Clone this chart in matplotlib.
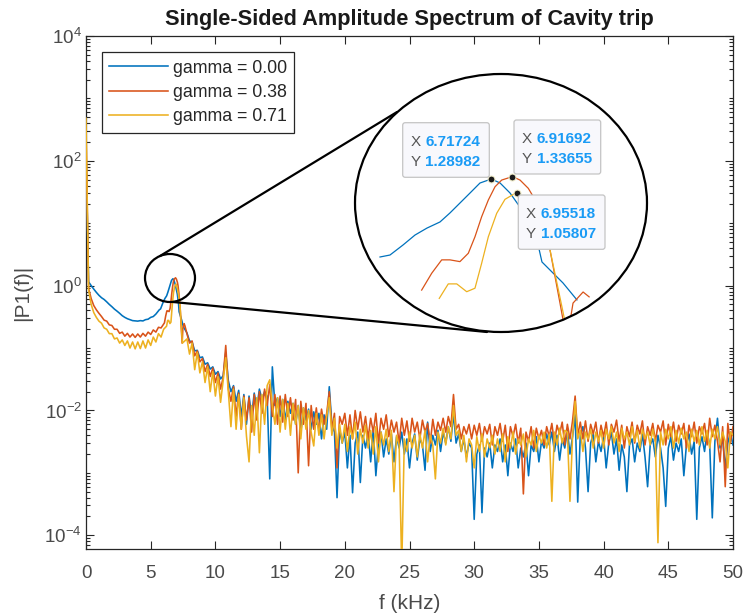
import numpy as np
import matplotlib
matplotlib.use('Agg')
import matplotlib.pyplot as plt
from matplotlib.patches import Ellipse, FancyBboxPatch
from matplotlib.ticker import FixedLocator, LogLocator, FuncFormatter, NullFormatter

plt.rcParams['font.family'] = ['Liberation Sans', 'DejaVu Sans']
plt.rcParams['mathtext.default'] = 'regular'
plt.rcParams['axes.unicode_minus'] = False

# ---------------- data ----------------
TITLE = 'Single-Sided Amplitude Spectrum of Cavity trip'
XLABEL = 'f (kHz)'
YLABEL = '|P1(f)|'
LABELS = ['gamma = 0.00', 'gamma = 0.38', 'gamma = 0.71']
COLORS = ['#0072BD', '#D95319', '#EDB120']
X_TICKS = [0, 5, 10, 15, 20, 25, 30, 35, 40, 45, 50]
Y_TICKS = [1e-4, 1e-2, 1e0, 1e2, 1e4]

FREQ_STEP = 0.2  # kHz, sampling grid of the spectrum
LOW_F = np.round(np.arange(0.0, 6.0 + 1e-9, FREQ_STEP), 2)
HIGH_F = np.round(np.arange(7.8, 50.0 + 1e-9, FREQ_STEP), 2)

BLUE_LOW = [150, 1.15, 1.0, 0.88, 0.78, 0.7, 0.64, 0.6, 0.55, 0.5, 0.46, 0.42, 0.39, 0.36,
            0.33, 0.31, 0.295, 0.285, 0.275, 0.272, 0.27, 0.275, 0.272, 0.285, 0.29, 0.31,
            0.32, 0.35]
RED_LOW = [300, 0.9, 0.62, 0.48, 0.41, 0.36, 0.32, 0.28, 0.27, 0.235, 0.23, 0.2, 0.2, 0.172,
           0.18, 0.155, 0.172, 0.15, 0.168, 0.148, 0.168, 0.15, 0.172, 0.155, 0.18, 0.165,
           0.195, 0.18, 0.215, 0.21]
YELLOW_LOW = [480, 0.85, 0.5, 0.37, 0.31, 0.27, 0.25, 0.21, 0.2, 0.17, 0.17, 0.14, 0.145,
              0.12, 0.135, 0.11, 0.13, 0.1, 0.125, 0.097, 0.125, 0.098, 0.13, 0.1, 0.135,
              0.11, 0.15, 0.125, 0.17, 0.15, 0.2]

# resonance peak (also shown in the magnifier)
BLUE_PEAK_F = [5.667, 5.761, 5.884, 5.997, 6.11, 6.233, 6.327, 6.422, 6.516, 6.61, 6.71724,
               6.80, 6.894, 6.96, 7.054, 7.148, 7.195, 7.299, 7.393, 7.525]
BLUE_PEAK_A = [0.411, 0.423, 0.49, 0.567, 0.628, 0.687, 0.784, 0.908, 1.05, 1.216, 1.28982,
               1.216, 1.05, 0.908, 0.738, 0.527, 0.382, 0.325, 0.281, 0.219]
RED_PEAK_F = [6.06, 6.155, 6.249, 6.327, 6.421, 6.50, 6.563, 6.626, 6.689, 6.752, 6.815,
              6.91692, 6.988, 7.066, 7.113, 7.176, 7.271, 7.365, 7.43, 7.488, 7.583, 7.64]
RED_PEAK_A = [0.253, 0.324, 0.394, 0.394, 0.384, 0.434, 0.553, 0.742, 0.948, 1.151, 1.27,
              1.33655, 1.27, 1.125, 0.995, 0.76, 0.455, 0.209, 0.12, 0.209, 0.246, 0.229]
YELLOW_PEAK_F = [6.226, 6.311, 6.391, 6.485, 6.563, 6.626, 6.689, 6.768, 6.846, 6.95518,
                 7.035, 7.15, 7.271, 7.384, 7.45]
YELLOW_PEAK_A = [0.224, 0.277, 0.277, 0.247, 0.26, 0.375, 0.553, 0.78, 0.957, 1.05807,
                 0.95, 0.72, 0.455, 0.197, 0.12]

BLUE_HIGH = [
    0.175, 0.13, 0.125, 0.09, 0.092, 0.07, 0.072, 0.055, 0.058, 0.046,
    0.05, 0.038, 0.042, 0.032, 0.036, 0.085, 0.03, 0.02, 0.025, 0.014,
    0.021, 0.008, 0.018, 0.006, 0.017, 0.008, 0.019, 0.011, 0.022, 0.015,
    0.02, 0.017, 0.0008, 0.05, 0.012, 0.016, 0.008, 0.015, 0.007, 0.014,
    0.009, 0.013, 0.006, 0.012, 0.0045, 0.011, 0.007, 0.0105, 0.005, 0.0095,
    0.006, 0.009, 0.0035, 0.0085, 0.005, 0.024, 0.006, 0.0045, 0.0004, 0.005,
    0.003, 0.0045, 0.0012, 0.004, 0.00048, 0.003, 0.0045, 0.0007, 0.004, 0.0025,
    0.0045, 0.0015, 0.005, 0.0009, 0.003, 0.0045, 0.0018, 0.0035, 0.002, 0.0042,
    0.0015, 0.0038, 0.0025, 0.0045, 0.002, 0.0035, 0.0012, 0.003, 0.0042, 0.0016,
    0.0035, 0.0028, 0.0011, 0.0065, 0.0022, 0.004, 0.0028, 0.0048, 0.0022, 0.0045,
    0.003, 0.0055, 0.0032, 0.009, 0.003, 0.0042, 0.0022, 0.0035, 0.0018, 0.003,
    0.0025, 0.00018, 0.002, 0.0028, 0.00023, 0.0025, 0.0018, 0.003, 0.0012, 0.0028,
    0.0022, 0.0035, 0.0015, 0.0028, 0.0009, 0.003, 0.0022, 0.0035, 0.0012, 0.0025,
    0.0018, 0.003, 0.0009, 0.0028, 0.0022, 0.0038, 0.0015, 0.0032, 0.0025, 0.0042,
    0.0028, 0.0045, 0.0022, 0.004, 0.0016, 0.0035, 0.0025, 0.0048, 0.002, 0.0038,
    0.0085, 0.00034, 0.004, 0.0055, 0.0025, 0.0005, 0.003, 0.0042, 0.0015, 0.0032,
    0.0022, 0.0038, 0.0012, 0.003, 0.0045, 0.002, 0.0035, 0.0011, 0.0028, 0.0018,
    0.0005, 0.0028, 0.0035, 0.0015, 0.003, 0.0022, 0.0042, 0.0018, 0.0006, 0.0028,
    0.0035, 0.0018, 0.004, 0.0025, 0.0012, 0.00029, 0.0025, 0.0038, 0.0016, 0.003,
    0.0022, 0.0035, 0.0009, 0.0028, 0.0042, 0.002, 0.0032, 0.00018, 0.0025, 0.0038,
    0.0022, 0.0045, 0.0028, 0.00019, 0.0032, 0.0075, 0.0025, 0.0035, 0.0012, 0.003,
    0.0045, 0.0028]
RED_HIGH = [
    0.17, 0.12, 0.13, 0.075, 0.09, 0.06, 0.068, 0.042, 0.055, 0.035,
    0.048, 0.028, 0.04, 0.022, 0.034, 0.11, 0.022, 0.014, 0.024, 0.008,
    0.019, 0.005, 0.017, 0.007, 0.016, 0.0045, 0.018, 0.007, 0.02, 0.009,
    0.022, 0.012, 0.026, 0.008, 0.018, 0.006, 0.017, 0.0065, 0.018, 0.008,
    0.016, 0.007, 0.015, 0.001, 0.014, 0.006, 0.013, 0.0013, 0.012, 0.005,
    0.011, 0.0045, 0.0105, 0.006, 0.009, 0.02, 0.005, 0.009, 0.0012, 0.008,
    0.006, 0.009, 0.004, 0.0085, 0.0035, 0.01, 0.005, 0.0095, 0.0045, 0.008,
    0.0035, 0.0075, 0.0045, 0.009, 0.003, 0.0075, 0.005, 0.0085, 0.0038, 0.007,
    0.0045, 0.0065, 0.003, 0.0075, 0.004, 0.0068, 0.0032, 0.0075, 0.0045, 0.0065,
    0.0035, 0.007, 0.0045, 0.0062, 0.003, 0.0072, 0.004, 0.0065, 0.0048, 0.0075,
    0.0045, 0.008, 0.0055, 0.018, 0.005, 0.006, 0.0035, 0.0055, 0.0042, 0.006,
    0.0035, 0.0058, 0.004, 0.0062, 0.0032, 0.0055, 0.0042, 0.006, 0.0028, 0.0055,
    0.004, 0.0062, 0.0032, 0.0058, 0.0022, 0.0055, 0.0038, 0.006, 0.003, 0.0052,
    0.00046, 0.0045, 0.0032, 0.0055, 0.0025, 0.0052, 0.0035, 0.0048, 0.0028, 0.0055,
    0.0038, 0.0062, 0.003, 0.0058, 0.0042, 0.0065, 0.0028, 0.006, 0.0035, 0.0068,
    0.017, 0.004, 0.0065, 0.0035, 0.0068, 0.0032, 0.006, 0.0042, 0.0065, 0.003,
    0.0058, 0.0038, 0.0065, 0.0028, 0.006, 0.0045, 0.007, 0.0032, 0.0058, 0.0025,
    0.0055, 0.0038, 0.0065, 0.003, 0.0058, 0.0042, 0.0068, 0.0028, 0.0055, 0.004,
    0.0062, 0.0032, 0.0058, 0.0045, 0.0068, 0.0028, 0.006, 0.0038, 0.0065, 0.0032,
    0.0058, 0.0042, 0.0062, 0.0025, 0.0058, 0.0038, 0.0065, 0.003, 0.0055, 0.0042,
    0.0062, 0.0028, 0.0075, 0.0038, 0.0058, 0.0032, 0.0015, 0.0055, 0.0006, 0.0062,
    0.003, 0.0055]
YELLOW_HIGH = [
    0.14, 0.08, 0.12, 0.045, 0.085, 0.04, 0.06, 0.028, 0.05, 0.02,
    0.042, 0.017, 0.035, 0.0135, 0.03, 0.07, 0.02, 0.0055, 0.022, 0.005,
    0.018, 0.005, 0.016, 0.0039, 0.0015, 0.012, 0.004, 0.016, 0.0021, 0.018,
    0.006, 0.025, 0.031, 0.012, 0.006, 0.016, 0.0045, 0.015, 0.005, 0.013,
    0.004, 0.013, 0.006, 0.012, 0.0035, 0.011, 0.005, 0.01, 0.0045, 0.0027,
    0.009, 0.004, 0.0085, 0.0035, 0.008, 0.016, 0.004, 0.0075, 0.0025, 0.006,
    0.003, 0.006, 0.0022, 0.0055, 0.0035, 0.0065, 0.002, 0.005, 0.003, 0.0058,
    0.0025, 0.0048, 0.002, 0.0055, 0.0015, 0.0045, 0.0028, 0.005, 0.0022, 0.0048,
    0.0005, 0.004, 0.0028, 0.00003, 0.0035, 0.0022, 0.0045, 0.0025, 0.004, 0.0018,
    0.0042, 0.0025, 0.0048, 0.0015, 0.004, 0.0028, 0.0008, 0.0045, 0.003, 0.0052,
    0.0028, 0.0055, 0.0035, 0.012, 0.004, 0.0048, 0.0022, 0.004, 0.0015, 0.0035,
    0.0028, 0.0012, 0.0038, 0.0022, 0.0042, 0.0018, 0.0035, 0.0025, 0.004, 0.002,
    0.0035, 0.0022, 0.0042, 0.0015, 0.0038, 0.0025, 0.0045, 0.002, 0.0035, 0.0028,
    0.0042, 0.0018, 0.0035, 0.0028, 0.0048, 0.0022, 0.004, 0.003, 0.0045, 0.0025,
    0.0042, 0.00035, 0.0045, 0.0028, 0.0052, 0.003, 0.0048, 0.0045, 0.00035, 0.0038,
    0.014, 0.0035, 0.0048, 0.0022, 0.0045, 0.0035, 0.005, 0.0025, 0.0045, 0.0032,
    0.0048, 0.0025, 0.005, 0.0035, 0.0055, 0.003, 0.0045, 0.0022, 0.0052, 0.0035,
    0.0045, 0.0028, 0.0055, 0.0032, 0.0048, 0.0025, 0.005, 0.0035, 0.0045, 0.0028,
    0.005, 0.0032, 0.000076, 0.0045, 0.0028, 0.005, 0.0035, 0.0055, 0.0025, 0.0048,
    0.003, 0.0052, 0.0035, 0.0045, 0.0022, 0.005, 0.0032, 0.0048, 0.0028, 0.0055,
    0.0032, 0.0048, 0.0025, 0.005, 0.0035, 0.0055, 0.0028, 0.0045, 0.0032, 0.0012,
    0.0045, 0.004]

# data tips shown in the magnifier (series index, x, y)
TIPS = [(0, 6.71724, 1.28982), (1, 6.91692, 1.33655), (2, 6.95518, 1.05807)]

# ---------------- assemble series ----------------
low_sets = [BLUE_LOW, RED_LOW, YELLOW_LOW]
peak_f = [BLUE_PEAK_F, RED_PEAK_F, YELLOW_PEAK_F]
peak_a = [BLUE_PEAK_A, RED_PEAK_A, YELLOW_PEAK_A]
high_sets = [BLUE_HIGH, RED_HIGH, YELLOW_HIGH]
series = []
for lo, pf, pa, hi in zip(low_sets, peak_f, peak_a, high_sets):
    assert len(hi) == len(HIGH_F), len(hi)
    assert len(pf) == len(pa)
    f = np.concatenate([LOW_F[:len(lo)], pf, HIGH_F])
    a = np.concatenate([lo, pa, hi])
    series.append((f, a))

# ---------------- figure ----------------
W, H = 743, 615
fig = plt.figure(figsize=(W / 100, H / 100), dpi=100)
fig.patch.set_facecolor('white')

AX_L, AX_R, AX_T, AX_B = 86, 733, 36, 549
ax = fig.add_axes([AX_L / W, (H - AX_B) / H, (AX_R - AX_L) / W, (AX_B - AX_T) / H])
lines = []
for (f, a), c, lab in zip(series, COLORS, LABELS):
    ln, = ax.plot(f, a, color=c, lw=1.15, label=lab, zorder=3)
    lines.append(ln)
ax.set_yscale('log')
ax.set_xlim(0, 50)
ax.set_ylim(10 ** -4.22, 1e4)
ax.xaxis.set_major_locator(FixedLocator(X_TICKS))
ax.yaxis.set_major_locator(FixedLocator(Y_TICKS))
ax.yaxis.set_minor_locator(LogLocator(base=10, subs=np.arange(1, 10) * 1.0, numticks=100))
ax.yaxis.set_minor_formatter(NullFormatter())
ax.yaxis.set_major_formatter(FuncFormatter(lambda v, p: r'$10^{%d}$' % int(round(np.log10(v)))))
ax.xaxis.set_major_formatter(FuncFormatter(lambda v, p: '%d' % v))
axc = '#262626'
ax.tick_params(which='both', direction='in', top=True, right=True, colors=axc,
               labelcolor='#4a4a4a', width=0.8)
ax.tick_params(which='major', length=6, labelsize=13.5)
ax.tick_params(which='minor', length=3)
ax.tick_params(axis='x', pad=11.5)
ax.tick_params(axis='y', pad=3)
for s in ax.spines.values():
    s.set_color(axc)
    s.set_linewidth(0.9)
ax.set_title(TITLE, fontsize=15.7, fontweight='bold', pad=8, color='#1a1a1a')
ax.set_xlabel(XLABEL, fontsize=15, color='#4a4a4a', labelpad=8.5)
ax.set_ylabel(YLABEL, fontsize=15, color='#4a4a4a', labelpad=9)

leg = ax.legend(handles=lines, loc='upper left', bbox_to_anchor=(0.025, 0.968),
                borderaxespad=0, fontsize=12.8, handlelength=3.3, handletextpad=0.28,
                borderpad=0.4, labelspacing=0.42, fancybox=False, framealpha=1)
leg.get_frame().set_edgecolor('#262626')
leg.get_frame().set_linewidth(0.9)
for t in leg.get_texts():
    t.set_color('#262626')

# ---------------- magnifier ----------------
BIG_C, BIG_W, BIG_H = (501, 203), 292, 258
SMALL_C, SMALL_W, SMALL_H = (170, 278), 50, 48

ax_in = fig.add_axes([(BIG_C[0] - BIG_W / 2) / W, (H - (BIG_C[1] + BIG_H / 2)) / H,
                      BIG_W / W, BIG_H / H])
ax_in.set_yscale('log')
ax_in.set_xlim(5.431, 8.186)
ax_in.set_ylim(0.1368, 6.016)
ax_in.axis('off')
clip_e = Ellipse((0.5, 0.5), 1, 1, transform=ax_in.transAxes, fc='white', ec='none', zorder=0)
ax_in.add_patch(clip_e)
for pf, pa, c in zip(peak_f, peak_a, COLORS):
    ln, = ax_in.plot(pf, pa, color=c, lw=0.9, zorder=2)
    ln.set_clip_path(clip_e)
for i, x, y in TIPS:
    ax_in.plot([x], [y], 'o', ms=5, color='#1a1a1a', mec='#f2eecc', mew=0.8,
               zorder=6, clip_on=False)

# overlay in pixel coordinates
ov = fig.add_axes([0, 0, 1, 1])
ov.set_xlim(0, W)
ov.set_ylim(H, 0)
ov.axis('off')
ov.add_patch(Ellipse(BIG_C, BIG_W, BIG_H, fc='none', ec='black', lw=1.6))
ov.add_patch(Ellipse(SMALL_C, SMALL_W, SMALL_H, fc='none', ec='black', lw=1.6))
ov.plot([160, 397], [256, 112], color='black', lw=1.6, solid_capstyle='round')
ov.plot([173, 487], [302, 332], color='black', lw=1.6, solid_capstyle='round')

# data tip boxes: (left, top, right, bottom) in pixels
BOXES = [(402.7, 122.7, 489.3, 177.3), (514, 120, 600.7, 174), (518.3, 195, 605, 249.3)]
VAL_COLOR = '#1a9bf5'
for (i, x, y), (l, t, r, b) in zip(TIPS, BOXES):
    ov.add_patch(FancyBboxPatch((l, t), r - l, b - t,
                                boxstyle='round,pad=0,rounding_size=2.5',
                                fc='#f8f8fc', ec='#c4c4c4', lw=0.9, zorder=7))
    h = b - t
    y1 = t + h * 0.35
    y2 = t + h * 0.72
    ov.text(l + 7.5, y1, 'X', color='#555555', fontsize=11, va='center', ha='left', zorder=8)
    ov.text(l + 22.5, y1, '%.5f' % x, color=VAL_COLOR, fontsize=11, fontweight='bold',
            va='center', ha='left', zorder=8)
    ov.text(l + 7.5, y2, 'Y', color='#555555', fontsize=11, va='center', ha='left', zorder=8)
    ov.text(l + 22.5, y2, '%.5f' % y, color=VAL_COLOR, fontsize=11, fontweight='bold',
            va='center', ha='left', zorder=8)

fig.savefig('out.png', dpi=100)
